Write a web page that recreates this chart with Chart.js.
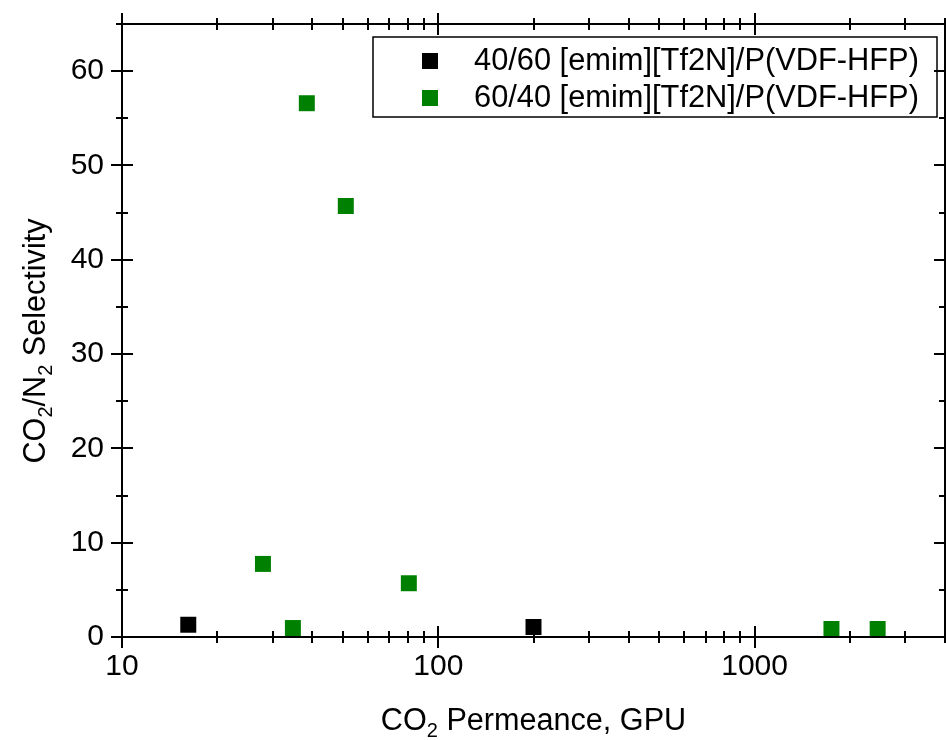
<!DOCTYPE html>
<html><head><meta charset="utf-8">
<script src="https://cdn.jsdelivr.net/npm/chart.js@4/dist/chart.umd.min.js"></script>
<style>html,body{margin:0;padding:0;background:#fff;overflow:hidden;} #wrap{width:946px;height:740px;position:relative;} canvas{display:block;}</style>
</head><body><div id="wrap"><canvas id="c" width="946" height="740"></canvas></div>
<script>
// ---- data ----
const seriesLabels = ['40/60 [emim][Tf2N]/P(VDF-HFP)', '60/40 [emim][Tf2N]/P(VDF-HFP)'];
const seriesColors = ['#000000', '#008000'];
const blackPermeance = [16.2, 200];
const blackSelectivity = [1.3, 1.06];
const greenPermeance = [27.9, 34.7, 38.4, 51.0, 80.7, 1750, 2450];
const greenSelectivity = [7.75, 0.95, 56.6, 45.7, 5.7, 0.85, 0.85];
const xMajorTicks = [10, 100, 1000];
const xMinorTicks = [20, 30, 40, 50, 60, 70, 80, 90, 200, 300, 400, 500, 600, 700, 800, 900, 2000, 3000, 4000];
const yMajorTicks = [0, 10, 20, 30, 40, 50, 60];
const yMinorTicks = [5, 15, 25, 35, 45, 55, 65];
const xRange = [10, 4000];
const yRange = [0, 65];

const FONT = "'Liberation Sans', Arial, sans-serif";
const FS = 30;
const TITLE_FS = 30.6;

function toPts(xs, ys) { return xs.map((x, i) => ({x: x, y: ys[i]})); }
function zeroPad(s) { s.paddingTop = 0; s.paddingBottom = 0; s.paddingLeft = 0; s.paddingRight = 0; }

const framePlugin = {
  id: 'frame',
  beforeDraw(chart) {
    const c = chart.ctx;
    c.save(); c.fillStyle = '#fff'; c.fillRect(0, 0, chart.width, chart.height); c.restore();
  },
  afterDraw(chart) {
    const c = chart.ctx;
    const a = chart.chartArea;
    const xs = chart.scales.x, ys = chart.scales.y;
    c.save();
    c.strokeStyle = '#000';
    c.lineWidth = 2;
    c.strokeRect(a.left, a.top, a.right - a.left, a.bottom - a.top);
    const MAJ = 11, MIN = 6;
    c.beginPath();
    const xt = (v, L) => {
      const p = Math.round(xs.getPixelForValue(v));
      c.moveTo(p, a.bottom - L); c.lineTo(p, a.bottom + L);
      c.moveTo(p, a.top - L); c.lineTo(p, a.top + L);
    };
    const yt = (v, L) => {
      const p = Math.round(ys.getPixelForValue(v));
      c.moveTo(a.left - L, p); c.lineTo(a.left + L, p);
      c.moveTo(a.right - L, p); c.lineTo(a.right + L, p);
    };
    xMajorTicks.forEach(v => xt(v, MAJ));
    xMinorTicks.forEach(v => xt(v, MIN));
    yMajorTicks.forEach(v => yt(v, MAJ));
    yMinorTicks.forEach(v => yt(v, MIN));
    c.stroke();

    // axis titles with subscripts
    const drawRich = (parts, cx, cy, rot) => {
      c.save();
      c.translate(cx, cy);
      if (rot) c.rotate(rot);
      let total = 0;
      parts.forEach(p => { c.font = (p.sub ? 20 : TITLE_FS) + 'px ' + FONT; p.w = c.measureText(p.t).width; total += p.w; });
      let x = -total / 2;
      c.fillStyle = '#000';
      c.textBaseline = 'alphabetic';
      c.textAlign = 'left';
      parts.forEach(p => {
        c.font = (p.sub ? 20 : TITLE_FS) + 'px ' + FONT;
        c.fillText(p.t, x, p.sub ? 18 : 11);
        x += p.w;
      });
      c.restore();
    };
    drawRich([{t: 'CO'}, {t: '2', sub: true}, {t: ' Permeance, GPU'}], (a.left + a.right) / 2, 719, 0);
    drawRich([{t: 'CO'}, {t: '2', sub: true}, {t: '/N'}, {t: '2', sub: true}, {t: ' Selectivity'}], 34, 341, -Math.PI / 2);

    // legend
    const L = {left: 373, top: 37, right: 937, bottom: 117};
    c.lineWidth = 1.5;
    c.strokeRect(L.left, L.top, L.right - L.left, L.bottom - L.top);
    const rows = [61, 98];
    chart.data.datasets.forEach((ds, i) => {
      c.fillStyle = ds.backgroundColor;
      c.fillRect(430 - 8, rows[i] - 8, 16, 16);
      c.fillStyle = '#000';
      c.font = '30.8px ' + FONT;
      c.textBaseline = 'middle';
      c.textAlign = 'left';
      c.fillText(ds.label, 474, rows[i] + 1);
    });
    c.restore();
  }
};

new Chart(document.getElementById('c'), {
  type: 'scatter',
  data: {
    datasets: [
      {label: seriesLabels[0], data: toPts(blackPermeance, blackSelectivity), backgroundColor: seriesColors[0], borderColor: seriesColors[0], pointStyle: 'rect', pointRadius: 11.3, borderWidth: 0, clip: false},
      {label: seriesLabels[1], data: toPts(greenPermeance, greenSelectivity), backgroundColor: seriesColors[1], borderColor: seriesColors[1], pointStyle: 'rect', pointRadius: 11.3, borderWidth: 0, clip: false}
    ]
  },
  options: {
    responsive: false,
    animation: false,
    devicePixelRatio: 1,
    layout: {autoPadding: false, padding: {top: 24, right: 1, left: 0, bottom: 0}},
    plugins: {legend: {display: false}, tooltip: {enabled: false}},
    scales: {
      x: {
        type: 'logarithmic', min: xRange[0], max: xRange[1],
        grid: {display: false, drawTicks: false}, border: {display: false},
        afterBuildTicks: s => { s.ticks = xMajorTicks.map(v => ({value: v})); },
        afterFit: s => { s.height = 103; zeroPad(s); },
        ticks: {color: '#000', font: {family: FONT, size: FS}, padding: 12, maxRotation: 0, autoSkip: false, callback: v => String(v)}
      },
      y: {
        type: 'linear', min: yRange[0], max: yRange[1],
        grid: {display: false, drawTicks: false}, border: {display: false},
        afterBuildTicks: s => { s.ticks = yMajorTicks.map(v => ({value: v})); },
        afterFit: s => { s.width = 122; zeroPad(s); },
        ticks: {color: '#000', font: {family: FONT, size: FS}, padding: 18, callback: v => String(v)}
      }
    }
  },
  plugins: [framePlugin]
});
</script></body></html>
